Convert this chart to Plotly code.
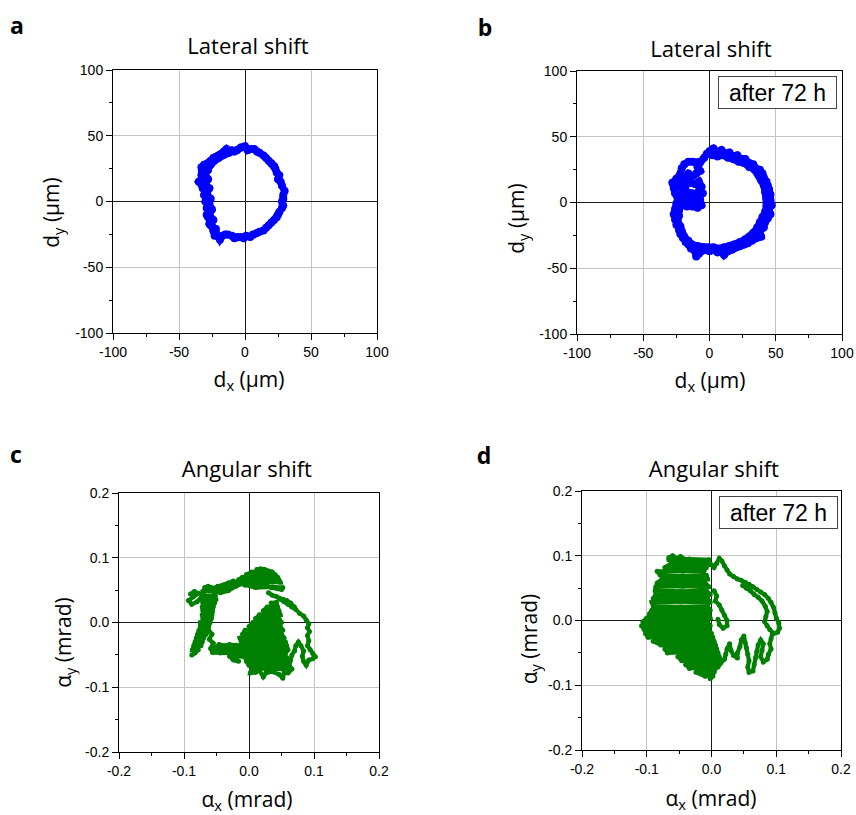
import plotly.graph_objects as go

# ---------------- data ----------------
# panel a: lateral shift (µm), trace of the beam spot
lateral_a = [(-3, 41), (0, 42), (2, 39), (4, 40), (7, 40), (9, 38), (11, 37), (14, 35), (16, 33), (18, 31),
             (20, 29), (22, 27), (23, 25), (24, 22), (26, 20), (25, 17), (27, 15), (28, 12), (30, 8), (29, 5),
             (29, 2), (28, 0), (29, -3), (28, -5), (26, -8), (25, -10), (24, -12), (22, -14), (20, -16), (18, -18),
             (16, -20), (14, -22), (11, -23), (9, -24), (6, -25), (4, -27), (1, -26), (-1, -28), (-3, -27), (-6, -27),
             (-8, -28), (-10, -26), (-13, -25), (-15, -25), (-17, -26), (-19, -29), (-20, -27), (-22, -24), (-23, -26),
             (-24, -22), (-25, -19), (-27, -17), (-26, -14), (-28, -12), (-29, -10), (-27, -7), (-29, -5), (-28, -2),
             (-30, 0), (-29, 3), (-31, 5), (-30, 8), (-32, 10), (-33, 13), (-35, 15), (-33, 17), (-33, 20), (-32, 23),
             (-33, 26), (-31, 28), (-28, 29), (-26, 31), (-24, 33), (-22, 34), (-20, 35), (-18, 36), (-16, 38),
             (-14, 40), (-12, 38), (-10, 39), (-8, 38), (-6, 39), (-3, 41),
             (-12, 37), (-20, 33), (-26, 28), (-28, 24), (-30, 21), (-28, 17), (-30, 13), (-27, 10), (-29, 6),
             (-26, 2), (-27, -2), (-25, -6), (-27, -10), (-24, -14), (-26, -18), (-22, -21)]

# panel b: lateral shift after 72 h (µm)
lateral_b = [(0, 39), (3, 41), (6, 38), (9, 40), (12, 37), (15, 38), (18, 35), (21, 36), (24, 33), (27, 33),
             (30, 30), (33, 29), (35, 26), (38, 25), (40, 22), (41, 19), (43, 16), (44, 13), (45, 10), (46, 6),
             (46, 2), (47, -2), (45, -5), (46, -9), (44, -12), (42, -15), (41, -19), (38, -22), (39, -26), (35, -27),
             (32, -29), (29, -31), (26, -32), (23, -33), (20, -34), (17, -36), (14, -37), (11, -40), (9, -37),
             (6, -38), (3, -36), (0, -37), (-3, -36), (-6, -37), (-8, -39), (-10, -41), (-11, -37), (-14, -35),
             (-16, -32), (-18, -30), (-20, -27), (-22, -24), (-23, -21), (-25, -17), (-26, -13), (-27, -9),
             (-26, -5), (-25, -1), (-24, 3), (-26, 7), (-27, 11), (-28, 15), (-25, 18), (-22, 22), (-21, 26),
             (-19, 29), (-16, 31), (-13, 31), (-10, 30), (-7, 31), (-4, 34), (-2, 37),
             (-9, 27), (-7, 24), (-10, 22), (-13, 20), (-16, 22), (-19, 18), (-22, 16), (-24, 12), (-21, 11),
             (-18, 13), (-15, 15), (-11, 14), (-8, 16), (-6, 12), (-8, 9), (-5, 7), (-9, 5), (-13, 7), (-17, 8),
             (-21, 6), (-22, 2), (-19, 1), (-15, 3), (-11, 1), (-7, 2), (-6, -2), (-9, -4), (-13, -3), (-17, -3),
             (-21, -2), (-23, -6),
             (-23, -10), (-24, -14), (-22, -18), (-21, -22), (-19, -26), (-16, -29), (-13, -32), (-9, -33),
             (-5, -34), (-1, -34), (3, -34), (7, -35), (11, -34), (15, -33), (19, -32), (23, -30), (27, -28),
             (30, -26), (33, -23), (36, -19), (38, -15), (40, -11), (42, -7), (43, -2), (43, 3), (42, 8), (41, 13),
             (39, 17), (37, 21), (34, 25), (30, 27), (26, 30), (22, 31), (18, 33), (14, 34), (10, 36), (6, 35),
             (2, 36)]

# panel c: angular shift (mrad)
angular_c = [
    # upper-left spur and thick left band
    (-0.090, 0.044), (-0.084, 0.048), (-0.078, 0.045), (-0.086, 0.040), (-0.093, 0.034), (-0.088, 0.028),
    (-0.080, 0.032), (-0.074, 0.038), (-0.068, 0.054), (-0.063, 0.056), (-0.058, 0.054),
    (-0.054, 0.048), (-0.062, 0.049), (-0.071, 0.048), (-0.070, 0.042), (-0.061, 0.041), (-0.052, 0.042),
    (-0.051, 0.036), (-0.063, 0.037), (-0.073, 0.036), (-0.071, 0.030), (-0.061, 0.031), (-0.053, 0.030),
    (-0.055, 0.024), (-0.064, 0.025), (-0.072, 0.024), (-0.071, 0.018), (-0.063, 0.019), (-0.056, 0.018),
    (-0.057, 0.012), (-0.065, 0.013), (-0.072, 0.012), (-0.071, 0.006), (-0.064, 0.007), (-0.058, 0.006),
    (-0.060, 0.000), (-0.067, 0.001), (-0.075, 0.000), (-0.075, -0.006), (-0.068, -0.005), (-0.062, -0.006),
    (-0.064, -0.012), (-0.071, -0.011), (-0.077, -0.012), (-0.079, -0.018), (-0.072, -0.017), (-0.066, -0.018),
    (-0.070, -0.024), (-0.076, -0.023), (-0.081, -0.024), (-0.083, -0.030), (-0.077, -0.029), (-0.072, -0.030),
    (-0.074, -0.036), (-0.080, -0.035), (-0.085, -0.036), (-0.087, -0.042), (-0.082, -0.041), (-0.078, -0.042),
    (-0.083, -0.047), (-0.088, -0.050),
    (None, None),
    # second left strand and bottom-left band
    (-0.062, -0.012), (-0.057, -0.018), (-0.061, -0.026), (-0.055, -0.032), (-0.059, -0.040), (-0.056, -0.046),
    (-0.054, -0.040), (-0.046, -0.034), (-0.038, -0.036), (-0.030, -0.034), (-0.020, -0.035),
    (-0.016, -0.040), (-0.026, -0.041), (-0.038, -0.040), (-0.052, -0.041), (-0.056, -0.046), (-0.044, -0.047),
    (-0.030, -0.046), (-0.014, -0.046), (-0.010, -0.052), (-0.020, -0.053), (-0.030, -0.052), (-0.024, -0.058),
    (-0.016, -0.060),
    (None, None),
    # central blob
    (0.034, 0.030), (0.042, 0.031), (0.044, 0.024), (0.036, 0.025), (0.028, 0.024), (0.022, 0.018),
    (0.034, 0.019), (0.046, 0.018), (0.048, 0.012), (0.032, 0.013), (0.016, 0.012), (0.010, 0.006),
    (0.028, 0.007), (0.046, 0.006), (0.050, 0.000), (0.028, 0.001), (0.006, 0.000), (0.000, -0.006),
    (0.024, -0.005), (0.048, -0.006), (0.052, -0.012), (0.022, -0.011), (-0.006, -0.012), (-0.010, -0.018),
    (0.020, -0.017), (0.050, -0.018), (0.054, -0.024), (0.020, -0.023), (-0.014, -0.024), (-0.012, -0.030),
    (0.022, -0.029), (0.056, -0.030), (0.058, -0.036), (0.020, -0.035), (-0.016, -0.036), (-0.014, -0.042),
    (0.024, -0.041), (0.060, -0.042), (0.056, -0.048), (0.022, -0.047), (-0.010, -0.048), (-0.006, -0.054),
    (0.026, -0.053), (0.058, -0.054), (0.054, -0.060), (0.024, -0.059), (-0.004, -0.060), (0.000, -0.066),
    (0.028, -0.065), (0.056, -0.066), (0.052, -0.072), (0.026, -0.071), (0.004, -0.072), (0.002, -0.078),
    (0.010, -0.077), (0.016, -0.074), (0.022, -0.084), (0.026, -0.078), (0.036, -0.076), (0.046, -0.080),
    (0.052, -0.086), (0.054, -0.078),
    (None, None),
    # right loop
    (0.030, 0.046), (0.036, 0.042), (0.042, 0.040), (0.048, 0.036), (0.054, 0.032), (0.060, 0.028),
    (0.066, 0.024), (0.072, 0.020), (0.078, 0.014), (0.084, 0.010), (0.088, 0.004), (0.092, -0.002),
    (0.090, -0.008), (0.093, -0.014), (0.090, -0.020), (0.092, -0.028), (0.090, -0.036), (0.094, -0.042),
    (0.098, -0.048), (0.102, -0.053), (0.098, -0.056), (0.092, -0.058), (0.088, -0.066), (0.084, -0.060),
    (0.082, -0.052), (0.084, -0.044), (0.080, -0.036), (0.076, -0.030), (0.072, -0.036), (0.070, -0.044),
    (0.066, -0.050), (0.064, -0.058), (0.062, -0.066), (0.066, -0.072), (0.060, -0.078), (0.058, -0.070),
    (0.060, -0.060),
    (None, None),
    (0.046, 0.038), (0.052, 0.036), (0.058, 0.034), (0.064, 0.030), (0.070, 0.024),
    (None, None),
    # upper arc and top blob
    (-0.062, 0.050), (-0.056, 0.053), (-0.048, 0.056), (-0.040, 0.058), (-0.032, 0.061), (-0.024, 0.064),
    (-0.026, 0.057), (-0.034, 0.053), (-0.042, 0.051), (-0.050, 0.048), (-0.044, 0.046), (-0.032, 0.049),
    (-0.020, 0.056), (-0.010, 0.060), (-0.006, 0.058), (0.008, 0.059), (0.024, 0.058), (0.034, 0.054),
    (0.044, 0.052), (0.050, 0.051), (0.052, 0.054), (0.036, 0.055), (0.010, 0.054), (-0.006, 0.058),
    (-0.020, 0.062), (0.010, 0.063), (0.048, 0.062), (0.046, 0.066), (0.014, 0.067), (-0.016, 0.066),
    (-0.010, 0.070), (0.016, 0.071), (0.044, 0.070), (0.040, 0.074), (0.018, 0.075), (-0.004, 0.074),
    (0.004, 0.078), (0.020, 0.079), (0.036, 0.078), (0.024, 0.082), (0.018, 0.083), (0.012, 0.082)]

# panel d: angular shift after 72 h (mrad)
angular_d = [
    # top band and right arc (outer strand, back along inner strand)
    (-0.066, 0.097), (-0.060, 0.100), (-0.054, 0.096), (-0.048, 0.099), (-0.042, 0.095), (-0.036, 0.094),
    (-0.030, 0.092), (-0.024, 0.090), (-0.018, 0.091), (-0.012, 0.088), (-0.006, 0.087), (0.000, 0.086),
    (0.004, 0.082), (0.008, 0.088), (0.012, 0.096), (0.016, 0.092), (0.020, 0.084), (0.024, 0.078),
    (0.028, 0.072), (0.034, 0.068), (0.040, 0.064), (0.046, 0.062), (0.052, 0.059), (0.058, 0.056),
    (0.064, 0.052), (0.070, 0.048), (0.076, 0.044), (0.082, 0.040), (0.088, 0.034), (0.092, 0.028),
    (0.096, 0.020), (0.098, 0.012), (0.100, 0.004), (0.104, -0.004), (0.105, -0.012), (0.102, -0.018),
    (0.096, -0.020), (0.090, -0.014), (0.086, -0.008), (0.082, -0.002), (0.084, 0.006), (0.086, 0.014),
    (0.083, 0.022), (0.078, 0.030), (0.072, 0.036), (0.066, 0.040), (0.060, 0.046), (0.054, 0.050),
    (0.048, 0.054),
    (None, None),
    # streaks lower right
    (0.094, -0.020), (0.092, -0.028), (0.090, -0.036), (0.092, -0.044), (0.088, -0.052), (0.086, -0.060),
    (0.080, -0.064), (0.076, -0.056), (0.078, -0.046), (0.080, -0.036), (0.076, -0.030), (0.072, -0.038),
    (0.070, -0.048), (0.068, -0.058), (0.066, -0.068), (0.064, -0.078), (0.058, -0.080), (0.056, -0.072),
    (0.058, -0.062), (0.056, -0.052), (0.054, -0.042), (0.052, -0.034), (0.050, -0.024), (0.046, -0.030),
    (0.044, -0.040), (0.040, -0.050), (0.040, -0.058), (0.034, -0.054), (0.030, -0.046), (0.028, -0.036),
    (0.024, -0.044), (0.022, -0.052), (0.020, -0.060), (0.014, -0.066), (0.010, -0.072),
    (None, None),
    # middle band
    (0.004, 0.046), (0.008, 0.038), (0.006, 0.030), (0.012, 0.024), (0.016, 0.016), (0.020, 0.008),
    (0.024, 0.000), (0.024, -0.008), (0.018, -0.012), (0.012, -0.006), (0.010, 0.002),
    (None, None),
    # dense left cloud
    (-0.066, 0.094), (-0.034, 0.095), (-0.004, 0.094), (-0.006, 0.088), (-0.034, 0.089), (-0.062, 0.088),
    (-0.072, 0.082), (-0.040, 0.083), (-0.008, 0.082), (-0.012, 0.076), (-0.048, 0.077), (-0.084, 0.076),
    (-0.079, 0.070), (-0.044, 0.069), (-0.008, 0.070), (-0.006, 0.064), (-0.040, 0.065), (-0.076, 0.064),
    (-0.084, 0.058), (-0.046, 0.059), (-0.010, 0.058), (-0.004, 0.052), (-0.044, 0.053), (-0.086, 0.052),
    (-0.087, 0.046), (-0.048, 0.045), (-0.008, 0.046), (-0.002, 0.040), (-0.044, 0.041), (-0.086, 0.040),
    (-0.090, 0.034), (-0.048, 0.035), (-0.006, 0.034), (-0.002, 0.028), (-0.046, 0.029), (-0.092, 0.028),
    (-0.090, 0.022), (-0.048, 0.021), (-0.006, 0.022), (-0.002, 0.016), (-0.046, 0.017), (-0.092, 0.016),
    (-0.096, 0.010), (-0.050, 0.011), (-0.004, 0.010), (-0.002, 0.004), (-0.052, 0.005), (-0.100, 0.004),
    (-0.106, -0.002), (-0.056, -0.001), (-0.006, -0.002), (-0.002, -0.008), (-0.054, -0.007), (-0.108, -0.008),
    (-0.104, -0.014), (-0.054, -0.013), (-0.004, -0.014), (0.000, -0.020), (-0.050, -0.019), (-0.102, -0.020),
    (-0.098, -0.026), (-0.048, -0.025), (0.002, -0.026), (0.004, -0.032), (-0.042, -0.031), (-0.090, -0.032),
    (-0.078, -0.038), (-0.036, -0.037), (0.006, -0.038), (0.008, -0.044), (-0.032, -0.043), (-0.072, -0.044),
    (-0.068, -0.050), (-0.030, -0.049), (0.010, -0.050), (0.012, -0.056), (-0.020, -0.055), (-0.052, -0.056),
    (-0.046, -0.062), (-0.016, -0.061), (0.014, -0.062), (0.010, -0.068), (-0.014, -0.067), (-0.040, -0.068),
    (-0.034, -0.074), (-0.014, -0.073), (0.006, -0.074), (0.004, -0.080), (-0.010, -0.079), (-0.024, -0.080),
    (-0.010, -0.086), (0.002, -0.086), (-0.002, -0.090)]

# tick values / labels
lat_ticks = [-100, -50, 0, 50, 100]
lat_ticktext = ["-100", "-50", "0", "50", "100"]
lat_minor = [-75, -25, 25, 75]
ang_ticks = [-0.2, -0.1, 0.0, 0.1, 0.2]
ang_ticktext = ["-0.2", "-0.1", "0.0", "0.1", "0.2"]
ang_minor = [-0.15, -0.05, 0.05, 0.15]

# ---------------- figure ----------------
W, H = 856, 815
fig = go.Figure()


def split(pts):
    return [p[0] for p in pts], [p[1] for p in pts]


def add(pts, color, msize, lw, ax):
    x, y = split(pts)
    fig.add_trace(go.Scatter(x=x, y=y, mode="lines+markers", xaxis="x" + ax, yaxis="y" + ax,
                             line=dict(color=color, width=lw), marker=dict(color=color, size=msize),
                             connectgaps=False, showlegend=False, hoverinfo="skip"))


add(lateral_a, "#0000ff", 8, 7, "")
add(lateral_b, "#0000ff", 8, 7, "2")
add(angular_c, "#008000", 5, 4.2, "3")
add(angular_d, "#008000", 5, 4.2, "4")

# panel boxes in pixels (left, top, right, bottom)
boxes = {"": (113, 70, 377, 333), "2": (577, 71, 842, 334),
         "3": (119, 493, 379, 752), "4": (582, 491, 841, 750)}

TICKFONT = dict(family="Liberation Sans", size=14, color="black")


def axis(rng, tv, tt, minor, domain, anchor):
    return dict(range=rng, domain=domain, anchor=anchor, automargin=False,
                showline=True, linecolor="black", linewidth=1,
                mirror=True, ticks="outside", ticklen=6, tickwidth=1, tickcolor="black",
                tickmode="array", tickvals=tv, ticktext=tt, tickfont=TICKFONT,
                showgrid=True, gridcolor="#c4c4c4", gridwidth=1,
                zeroline=True, zerolinecolor="#1a1a1a", zerolinewidth=1,
                minor=dict(ticks="outside", ticklen=3, tickwidth=1, tickcolor="black",
                           tickmode="array", tickvals=minor, showgrid=False),
                fixedrange=True)


layout_axes = {}
for key, (l, t, r, b) in boxes.items():
    lateral = key in ("", "2")
    rng = [-100, 100] if lateral else [-0.2, 0.2]
    tv = lat_ticks if lateral else ang_ticks
    tt = lat_ticktext if lateral else ang_ticktext
    mn = lat_minor if lateral else ang_minor
    layout_axes["xaxis" + key] = axis(rng, tv, tt, mn, [l / W, r / W], "y" + key)
    layout_axes["yaxis" + key] = axis(rng, tv, tt, mn, [1 - b / H, 1 - t / H], "x" + key)

TXT = "Open Sans"


def ann(text, x, y, size, w, h, angle=0, bold=False):
    return dict(text=("<b>%s</b>" % text) if bold else text, x=x / W, y=1 - y / H, xref="paper", yref="paper",
                showarrow=False, xanchor="center", yanchor="middle", textangle=angle,
                width=w, height=h, borderpad=0, borderwidth=0, bgcolor="white",
                align="center", valign="middle",
                font=dict(family=TXT, size=size, color="black"))


annotations = [
    ann("a", 16.5, 25, 23, 22, 32, bold=True),
    ann("b", 485.5, 26.5, 23, 22, 32, bold=True),
    ann("c", 16, 453.5, 23, 22, 32, bold=True),
    ann("d", 484, 454.5, 23, 22, 32, bold=True),
    ann("Lateral shift", 247.5, 45, 22, 140, 32),
    ann("Lateral shift", 711, 47.5, 22, 140, 32),
    ann("Angular shift", 247, 467.5, 22, 150, 32),
    ann("Angular shift", 713.5, 467.5, 22, 150, 32),
    ann("d<sub>x</sub> (μm)", 249, 380, 21, 100, 34),
    ann("d<sub>x</sub> (μm)", 709.5, 381, 21, 100, 34),
    ann("α<sub>x</sub> (mrad)", 247, 800, 21, 120, 30),
    ann("α<sub>x</sub> (mrad)", 711, 798.5, 21, 120, 30),
    ann("d<sub>y</sub> (μm)", 52, 212.5, 21, 100, 32, angle=-90),
    ann("d<sub>y</sub> (μm)", 517, 218.5, 21, 100, 32, angle=-90),
    ann("α<sub>y</sub> (mrad)", 64, 642.5, 21, 120, 30, angle=-90),
    ann("α<sub>y</sub> (mrad)", 530, 639, 21, 120, 30, angle=-90),
]
for cx, cy in ((777.5, 92.5), (778.5, 512)):
    annotations.append(dict(text="after 72 h", x=cx / W, y=1 - cy / H, xref="paper", yref="paper",
                            showarrow=False, xanchor="center", yanchor="middle", width=117, height=31,
                            borderpad=0, borderwidth=1, bordercolor="#444444", bgcolor="white",
                            font=dict(family="Liberation Sans", size=23, color="black")))

fig.update_layout(width=W, height=H, autosize=False,
                  margin=dict(l=0, r=0, t=0, b=0, pad=0, autoexpand=False),
                  paper_bgcolor="white", plot_bgcolor="white", showlegend=False,
                  annotations=annotations, **layout_axes)

fig.write_html("out.html", config={"displayModeBar": False})
